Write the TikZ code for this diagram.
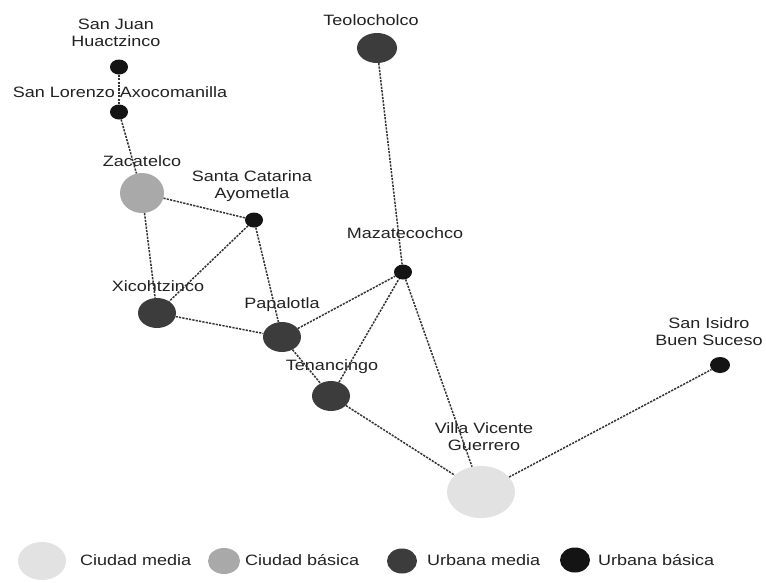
\documentclass[tikz,border=0pt]{standalone}
\usepackage{fontspec}
\setmainfont{Liberation Sans}[FakeStretch=1.2]
\usetikzlibrary{shapes.geometric}
\definecolor{cmedia}{HTML}{E2E2E2}
\definecolor{cbasica}{HTML}{A9A9A9}
\definecolor{umedia}{HTML}{3C3C3C}
\definecolor{ubasica}{HTML}{141414}
\definecolor{edgecol}{HTML}{333333}
\definecolor{txtcol}{HTML}{222222}
\tikzset{
  town/.style={ellipse, inner sep=0pt, draw=none},
  cmnode/.style={town, fill=cmedia, minimum width=68, minimum height=52},
  cbnode/.style={town, fill=cbasica, minimum width=44, minimum height=40},
  umnode/.style={town, fill=umedia, minimum width=38, minimum height=30},
  ubnode/.style={town, fill=ubasica, minimum width=18, minimum height=15},
  lbl/.style={inner sep=0pt, text=txtcol, align=center, font=\fontsize{15}{17}\selectfont},
  legtxt/.style={inner sep=0pt, text=txtcol, anchor=west, font=\fontsize{15}{17}\selectfont},
  link/.style={draw=edgecol, line width=1.5pt, dash pattern=on 2.2pt off 1.2pt}
}
\begin{document}
\begin{tikzpicture}[x=1pt,y=-1pt]
\useasboundingbox (0,0) rectangle (766,582);
\fill[white] (0,0) rectangle (766,582);
% nodes
\node[ubnode] (sj) at (119,67) {};
\node[ubnode] (sl) at (119,112) {};
\node[cbnode] (za) at (142,193) {};
\node[ubnode] (sc) at (254,220) {};
\node[umnode, minimum width=40, minimum height=30] (te) at (377,48) {};
\node[ubnode] (ma) at (403,272) {};
\node[umnode] (xi) at (157,313) {};
\node[umnode] (pa) at (282,337) {};
\node[umnode] (tn) at (331,396) {};
\node[cmnode] (vi) at (481,492) {};
\node[ubnode, minimum width=20, minimum height=16] (si) at (720,365) {};
% labels
\node[lbl] (lsj) at (116,33) {San Juan\\Huactzinco};
\node[lbl] (lsl) at (120,92) {San Lorenzo Axocomanilla};
\node[lbl] (lza) at (142,161) {Zacatelco};
\node[lbl] (lsc) at (252,186) {Santa Catarina\\Ayometla};
\node[lbl] (lte) at (371,20) {Teolocholco};
\node[lbl] (lma) at (405,233) {Mazatecochco};
\node[lbl] (lxi) at (158,286) {Xicohtzinco};
\node[lbl] (lpa) at (282,305) {Papalotla};
\node[lbl] (ltn) at (332,367) {Tenancingo};
\node[lbl] (lvi) at (484,437) {Villa Vicente\\Guerrero};
\node[lbl] (lsi) at (709,332) {San Isidro\\Buen Suceso};
% connectors
\draw[link] (sj) -- (sl);
\draw[link] (sl) -- (za);
\draw[link] (za) -- (sc);
\draw[link] (za) -- (xi);
\draw[link] (sc) -- (xi);
\draw[link] (sc) -- (pa);
\draw[link] (xi) -- (pa);
\draw[link] (pa) -- (ma);
\draw[link] (pa) -- (tn);
\draw[link] (tn) -- (ma);
\draw[link] (tn) -- (vi);
\draw[link] (ma) -- (vi);
\draw[link] (te) -- (ma);
\draw[link] (vi) -- (si);
% legend
\node[cmnode, minimum width=48, minimum height=38] (k1) at (42,561) {};
\node[legtxt] (t1) at (80,560) {Ciudad media};
\node[cbnode, minimum width=32, minimum height=26] (k2) at (224,561) {};
\node[legtxt] (t2) at (245,560) {Ciudad básica};
\node[umnode, minimum width=30, minimum height=25] (k3) at (402,561) {};
\node[legtxt] (t3) at (427,560) {Urbana media};
\node[ubnode, minimum width=30, minimum height=25] (k4) at (575,560) {};
\node[legtxt] (t4) at (598,560) {Urbana básica};
\end{tikzpicture}
\end{document}
